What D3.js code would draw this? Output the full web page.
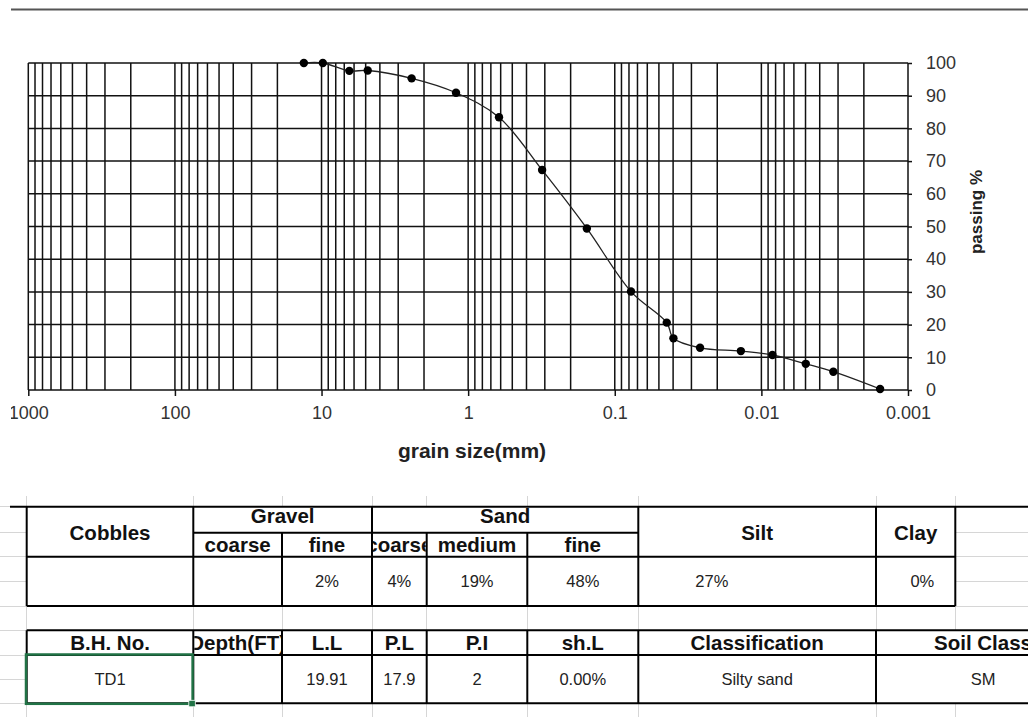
<!DOCTYPE html>
<html>
<head>
<meta charset="utf-8">
<script src="https://cdn.jsdelivr.net/npm/d3@7"></script>
<style>
  html, body { margin: 0; padding: 0; background: #fff; }
  svg { display: block; }
</style>
</head>
<body>
<svg id="sheet" width="1028" height="717"></svg>
<script>
// ---- Grain size distribution (sieve + hydrometer), borehole TD1 ----
const grainSize = [13.2, 9.8, 6.46, 4.84, 2.43, 1.21, 0.616, 0.313, 0.155, 0.0775,
                   0.0442, 0.0398, 0.0262, 0.0138, 0.00841, 0.00498, 0.00323, 0.00155];
const passing   = [100, 100, 97.6, 97.7, 95.3, 90.9, 83.4, 67.3, 49.4, 30.1,
                   20.6, 15.8, 12.9, 11.9, 10.7, 8.0, 5.6, 0.3];

const sizeTicks      = [1000, 100, 10, 1, 0.1, 0.01, 0.001];
const sizeTickLabels = ["1000", "100", "10", "1", "0.1", "0.01", "0.001"];
const passingTicks   = [0, 10, 20, 30, 40, 50, 60, 70, 80, 90, 100];

// ---- Soil fraction summary ----
const fractionGroups = ["Cobbles", "Gravel", "Sand", "Silt", "Clay"];
const fractionSubs   = ["coarse", "fine", "coarse", "medium", "fine"];
const fractionValues = ["", "", "2%", "4%", "19%", "48%", "27%", "0%"];

// ---- Index properties ----
const propertyHeaders = ["B.H. No.", "Depth(FT)", "L.L", "P.L", "P.I", "sh.L", "Classification", "Soil Class"];
const propertyValues  = ["TD1", "", "19.91", "17.9", "2", "0.00%", "Silty sand", "SM"];

// ================= drawing =================
const W = 1028, H = 717;
const FONT = "'Liberation Sans', Arial, Helvetica, sans-serif";
const svg = d3.select("#sheet");
const defs = svg.append("defs");
svg.append("rect").attr("width", W).attr("height", H).attr("fill", "#fff");

// ---------- chart ----------
const x = d3.scaleLog().domain([1000, 0.001]).range([28.3, 908]);
const y = d3.scaleLinear().domain([0, 100]).range([390, 63]);

defs.append("clipPath").attr("id", "chartClip")
  .append("rect").attr("x", 11).attr("y", 0).attr("width", W - 11).attr("height", 490);
const chart = svg.append("g").attr("clip-path", "url(#chartClip)");

// frame rule across the top of the chart object
chart.append("line")
  .attr("x1", 11).attr("x2", W).attr("y1", 9.5).attr("y2", 9.5)
  .attr("stroke", "#555").attr("stroke-width", 2);

// log grid (1..9 per decade) and 10% horizontal grid
const grid = chart.append("g").attr("stroke", "#111").attr("stroke-width", 1.5);
grid.selectAll("line.v").data(x.ticks()).join("line").attr("class", "v")
  .attr("x1", d => x(d)).attr("x2", d => x(d))
  .attr("y1", y(100)).attr("y2", y(0));
grid.selectAll("line.h").data(passingTicks).join("line").attr("class", "h")
  .attr("x1", x(1000)).attr("x2", x(0.001))
  .attr("y1", d => y(d)).attr("y2", d => y(d));

// bottom axis (grain size)
const xAxis = d3.axisBottom(x)
  .tickValues(sizeTicks)
  .tickFormat((d, i) => sizeTickLabels[i])
  .tickSize(6).tickSizeOuter(0).tickPadding(10);
chart.append("g").attr("transform", `translate(0,${y(0)})`).call(xAxis)
  .call(g => g.select(".domain").remove())
  .call(g => g.selectAll("line").attr("stroke", "#111").attr("stroke-width", 1.5))
  .call(g => g.selectAll("text").attr("font-family", FONT).attr("font-size", 18).attr("fill", "#333"));

// right axis (passing %)
const yAxis = d3.axisRight(y)
  .tickValues(passingTicks)
  .tickSize(4).tickSizeOuter(0).tickPadding(14);
chart.append("g").attr("transform", `translate(${x(0.001)},0)`).call(yAxis)
  .call(g => g.select(".domain").remove())
  .call(g => g.selectAll("line").attr("stroke", "#111").attr("stroke-width", 1.5))
  .call(g => g.selectAll("text").attr("font-family", FONT).attr("font-size", 18).attr("fill", "#333"));

// axis titles
chart.append("text")
  .attr("x", 472).attr("y", 458)
  .attr("text-anchor", "middle")
  .attr("font-family", FONT).attr("font-size", 21).attr("font-weight", "bold").attr("fill", "#222")
  .text("grain size(mm)");
chart.append("text")
  .attr("transform", "translate(982,212) rotate(-90)")
  .attr("text-anchor", "middle")
  .attr("font-family", FONT).attr("font-size", 17).attr("font-weight", "bold").attr("fill", "#222")
  .text("passing %");

// gradation curve and test points
const pts = grainSize.map((s, i) => [s, passing[i]]);
chart.append("path")
  .datum(pts)
  .attr("fill", "none").attr("stroke", "#222").attr("stroke-width", 1.3)
  .attr("d", d3.line().x(d => x(d[0])).y(d => y(d[1])).curve(d3.curveCatmullRom.alpha(0.5)));
chart.selectAll("circle.pt").data(pts).join("circle").attr("class", "pt")
  .attr("cx", d => x(d[0])).attr("cy", d => y(d[1])).attr("r", 4.2).attr("fill", "#000");

// ---------- spreadsheet tables ----------
const colX = [26.7, 193.3, 282, 372, 426.7, 527.3, 638.3, 876, 955.3, 1090];
const rowY = [506.7, 532.7, 556.7, 581.5, 606, 630.3, 655, 679.2, 703.3, 728];

const sheet = svg.append("g");

// faint worksheet gridlines
const gl = sheet.append("g").attr("stroke", "#d6d6d6").attr("stroke-width", 1).attr("shape-rendering", "crispEdges");
gl.selectAll("line.r").data(rowY).join("line").attr("class", "r")
  .attr("x1", 0).attr("x2", W).attr("y1", d => d).attr("y2", d => d);
gl.selectAll("line.c").data(colX).join("line").attr("class", "c")
  .attr("x1", d => d).attr("x2", d => d).attr("y1", 496).attr("y2", H);

let clipId = 0;
function cell(x0, x1, y0, y1, txt, opt = {}) {
  const g = sheet.append("g");
  g.append("rect").attr("x", x0).attr("y", y0).attr("width", x1 - x0).attr("height", y1 - y0).attr("fill", "#fff");
  if (!txt) return;
  const id = "cc" + (clipId++);
  defs.append("clipPath").attr("id", id)
    .append("rect").attr("x", x0 + 1).attr("y", y0).attr("width", x1 - x0 - 2).attr("height", y1 - y0);
  const anchor = opt.anchor || "middle";
  const tx = anchor === "start" ? x0 + (opt.offset || 4)
           : anchor === "end" ? x1 - (opt.offset || 4)
           : (x0 + x1) / 2;
  g.append("text")
    .attr("clip-path", `url(#${id})`)
    .attr("x", tx).attr("y", opt.base)
    .attr("text-anchor", anchor)
    .attr("font-family", FONT)
    .attr("font-size", opt.bold ? 20.5 : 16.5)
    .attr("font-weight", opt.bold ? "bold" : "normal")
    .attr("fill", opt.bold ? "#111" : "#222")
    .text(txt);
}

// fraction table: header (group row + sub row) and value row
const T1 = { top: rowY[0], mid: rowY[1], hdr: rowY[2], bot: rowY[4] };
const groupSpans = [[0, 1, true], [1, 3, false], [3, 6, false], [6, 7, true], [7, 8, true]];
fractionGroups.forEach((name, i) => {
  const [a, b, full] = groupSpans[i];
  cell(colX[a], colX[b], T1.top, full ? T1.hdr : T1.mid, name,
       { bold: true, base: full ? 540 : 523 });
});
[1, 2, 3, 4, 5].forEach((c, i) => {
  cell(colX[c], colX[c + 1], T1.mid, T1.hdr, fractionSubs[i], { bold: true, base: 552.3 });
});
const valueAlign = { 6: { anchor: "start", offset: 57 }, 7: { anchor: "end", offset: 21 } };
fractionValues.forEach((v, c) => {
  cell(colX[c], colX[c + 1], T1.hdr, T1.bot, v, Object.assign({ base: 587 }, valueAlign[c] || {}));
});

// property table: the last column (Soil Class) spans two worksheet columns
const T2 = { top: rowY[5], hdr: rowY[6], bot: rowY[8] };
const propSpan = c => [colX[c], c === 7 ? colX[9] : colX[c + 1]];
propertyHeaders.forEach((h, c) => {
  const [a, b] = propSpan(c);
  cell(a, b, T2.top, T2.hdr, h, { bold: true, base: 650 });
});
propertyValues.forEach((v, c) => {
  const [a, b] = propSpan(c);
  cell(a, b, T2.hdr, T2.bot, v, { base: 685 });
});

// borders
const bd = sheet.append("g").attr("stroke", "#000").attr("stroke-width", 2).attr("fill", "none");
function seg(x1, y1, x2, y2) { bd.append("line").attr("x1", x1).attr("y1", y1).attr("x2", x2).attr("y2", y2); }
// fraction table
seg(10, T1.top, W, T1.top);
seg(colX[0], T1.hdr, colX[8], T1.hdr);
seg(colX[0], T1.bot, colX[8], T1.bot);
seg(colX[1], T1.mid, colX[6], T1.mid);
[0, 1, 3, 6, 7, 8].forEach(c => seg(colX[c], T1.top, colX[c], T1.bot));
[2, 4, 5].forEach(c => seg(colX[c], T1.mid, colX[c], T1.bot));
// property table
seg(colX[0], T2.top, W, T2.top);
seg(colX[0], T2.hdr, W, T2.hdr);
seg(colX[0], T2.bot, W, T2.bot);
[0, 1, 2, 3, 4, 5, 6, 7].forEach(c => seg(colX[c], T2.top, colX[c], T2.bot));

// active-cell selection on TD1
sheet.append("rect")
  .attr("x", colX[0] - 0.7).attr("y", T2.hdr - 0.5)
  .attr("width", colX[1] - colX[0]).attr("height", T2.bot - T2.hdr + 1)
  .attr("fill", "none").attr("stroke", "#217346").attr("stroke-width", 2.5);
sheet.append("rect")
  .attr("x", colX[1] - 4.5).attr("y", T2.bot - 3).attr("width", 6.5).attr("height", 6.5)
  .attr("fill", "#217346").attr("stroke", "#fff").attr("stroke-width", 0.8);
</script>
</body>
</html>
